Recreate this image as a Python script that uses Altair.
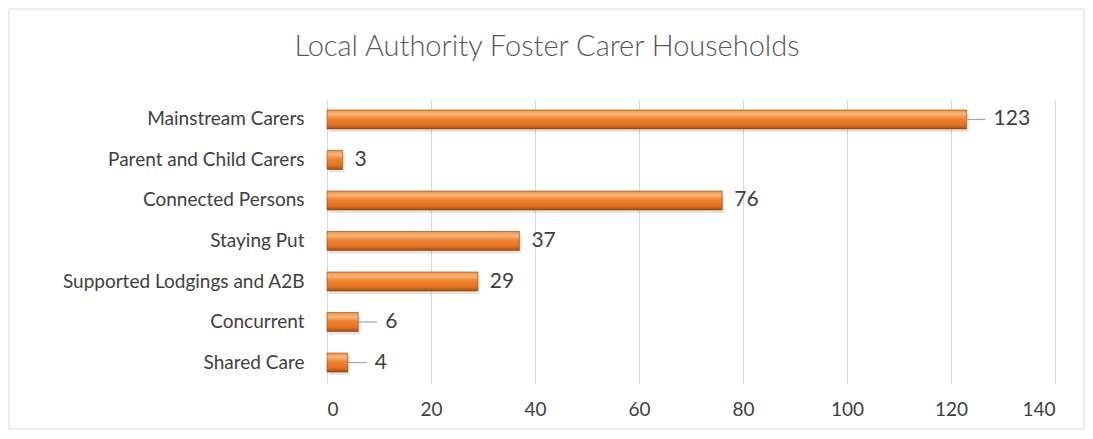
import altair as alt
import pandas as pd

categories = ["Mainstream Carers", "Parent and Child Carers", "Connected Persons",
              "Staying Put", "Supported Lodgings and A2B", "Concurrent", "Shared Care"]
values = [123, 3, 76, 37, 29, 6, 4]
has_leader = [True, False, False, False, False, True, True]
x_ticks = [0, 20, 40, 60, 80, 100, 120, 140]
title_text = "Local Authority Foster Carer Households"

df = pd.DataFrame({"category": categories, "value": values, "leader": has_leader})

W, H = 728, 284
FONT = "Lato"

yenc = alt.Y("category:N", sort=categories, title=None,
             scale=alt.Scale(paddingInner=0.53, paddingOuter=0.27),
             axis=alt.Axis(labelFontSize=19, labelColor="#404040", labelFont=FONT,
                           labelPadding=23, ticks=False, domain=False, labelLimit=400))
xenc = alt.X("value:Q", title=None,
             scale=alt.Scale(domain=[0, 140], nice=False),
             axis=alt.Axis(values=x_ticks, labelFontSize=19, labelColor="#404040",
                           labelFont=FONT, labelPadding=17, ticks=False, domain=False,
                           grid=True, gridColor="#D9D9D9", gridWidth=1))

grad = alt.Gradient(
    gradient="linear", x1=0, x2=0, y1=0, y2=1,
    stops=[alt.GradientStop(offset=0, color="#F0903F"),
           alt.GradientStop(offset=0.22, color="#F9B77C"),
           alt.GradientStop(offset=0.45, color="#EF8534"),
           alt.GradientStop(offset=0.8, color="#E2701F"),
           alt.GradientStop(offset=1, color="#9C4C12")])

base = alt.Chart(df)

shadow = base.mark_bar(color="#000000", opacity=0.10, size=19, yOffset=3, xOffset=2).encode(
    y=yenc, x=xenc)
bars = base.mark_bar(color=grad, size=19, stroke="#8F4610", strokeWidth=0.6).encode(
    y=yenc, x=xenc)

leaders = base.transform_filter("datum.leader").transform_calculate(
    v2="datum.value + 3.6").mark_rule(color="#A6A6A6", strokeWidth=1.2).encode(
    y=alt.Y("category:N", sort=categories), x="value:Q", x2="v2:Q")

labels_near = base.transform_filter("!datum.leader").mark_text(
    align="left", baseline="middle", dx=12, fontSize=21, color="#404040", font=FONT).encode(
    y=alt.Y("category:N", sort=categories), x="value:Q", text="value:Q")
labels_far = base.transform_filter("datum.leader").mark_text(
    align="left", baseline="middle", dx=27, fontSize=21, color="#404040", font=FONT).encode(
    y=alt.Y("category:N", sort=categories), x="value:Q", text="value:Q")

title = alt.Chart(pd.DataFrame({"t": [title_text]})).mark_text(
    fontSize=29, font=FONT, color="#595959", fontWeight=300, baseline="middle", align="center").encode(
    x=alt.value(220), y=alt.value(-52), text="t:N")

border = alt.Chart(pd.DataFrame({"a": [0]})).mark_rect(
    fill="white", fillOpacity=0, stroke="#D9D9D9", strokeWidth=1).encode(
    x=alt.value(-318), x2=alt.value(757), y=alt.value(-90), y2=alt.value(330))

chart = alt.layer(border, shadow, bars, leaders, labels_near, labels_far, title).properties(
    width=W, height=H,
    autosize=alt.AutoSizeParams(type="none"),
    padding={"left": 319, "top": 91, "right": 30, "bottom": 48},
).configure(background="white").configure_view(strokeWidth=0, stroke="transparent")

chart.save("out.html", embed_options={"renderer": "svg", "actions": False})
